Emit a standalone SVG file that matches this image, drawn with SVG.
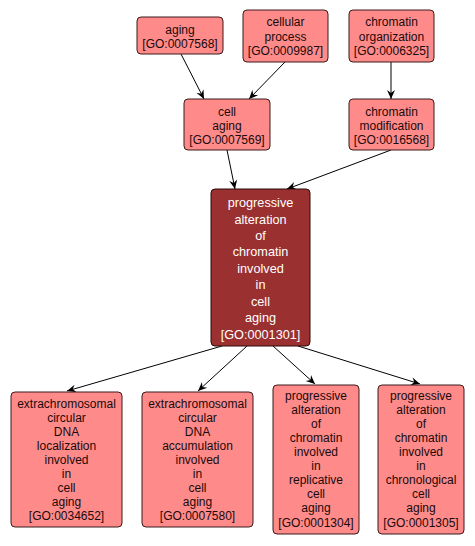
<svg xmlns="http://www.w3.org/2000/svg" width="475" height="546" viewBox="0 0 475 546">
<style>
.n rect{fill:#ff8a8a;stroke:#3a1a1a;stroke-width:1}
.n text{font-family:"Liberation Sans",Arial,sans-serif;font-size:12px;fill:#1a0a0a;text-anchor:middle}
.m rect{fill:#9a3030;stroke:#2a0a0a;stroke-width:1}
.m text{font-family:"Liberation Sans",Arial,sans-serif;font-size:12.7px;fill:#ffffff;text-anchor:middle}
.e line{stroke:#000;stroke-width:1;marker-end:url(#ah)}
</style>
<defs>
<marker id="ah" markerUnits="userSpaceOnUse" viewBox="-10 -5 11 10" refX="0" refY="0" markerWidth="11" markerHeight="10" orient="auto">
<path d="M0,0 L-9,-4 L-6,0 L-9,4 Z" fill="#000"/>
</marker>
</defs>
<rect width="475" height="546" fill="#fff"/>
<g id="edges" class="e">
<line x1="181" y1="54" x2="204" y2="99"/>
<line x1="285" y1="62" x2="249" y2="99"/>
<line x1="391" y1="62" x2="391" y2="99"/>
<line x1="227" y1="150" x2="235" y2="189"/>
<line x1="391" y1="150" x2="287" y2="189"/>
<line x1="222" y1="346" x2="67" y2="391"/>
<line x1="247" y1="346" x2="198" y2="391"/>
<line x1="273" y1="346" x2="315" y2="384"/>
<line x1="298" y1="346" x2="420" y2="384"/>
</g>
<g id="GO0007568" class="n">
<rect x="137" y="17" width="86" height="37" rx="4"/>
<text x="180" y="34">aging</text>
<text x="180" y="48">[GO:0007568]</text>
</g>
<g id="GO0009987" class="n">
<rect x="243" y="10" width="85" height="52" rx="4"/>
<text x="285.5" y="26">cellular</text>
<text x="285.5" y="40.5">process</text>
<text x="285.5" y="55">[GO:0009987]</text>
</g>
<g id="GO0006325" class="n">
<rect x="349" y="10" width="85" height="52" rx="4"/>
<text x="391.5" y="26">chromatin</text>
<text x="391.5" y="40.5">organization</text>
<text x="391.5" y="55">[GO:0006325]</text>
</g>
<g id="GO0007569" class="n">
<rect x="184" y="99" width="86" height="51" rx="4"/>
<text x="227" y="116">cell</text>
<text x="227" y="130">aging</text>
<text x="227" y="144">[GO:0007569]</text>
</g>
<g id="GO0016568" class="n">
<rect x="349" y="99" width="85" height="51" rx="4"/>
<text x="391.5" y="116">chromatin</text>
<text x="391.5" y="130">modification</text>
<text x="391.5" y="144">[GO:0016568]</text>
</g>
<g id="GO0001301" class="m">
<rect x="211" y="189" width="99" height="157" rx="4"/>
<text x="260.5" y="207">progressive</text>
<text x="260.5" y="224">alteration</text>
<text x="260.5" y="240">of</text>
<text x="260.5" y="256">chromatin</text>
<text x="260.5" y="273">involved</text>
<text x="260.5" y="289">in</text>
<text x="260.5" y="306">cell</text>
<text x="260.5" y="322">aging</text>
<text x="260.5" y="338.5">[GO:0001301]</text>
</g>
<g id="GO0034652" class="n">
<rect x="11" y="392" width="111" height="135" rx="4"/>
<text x="66.5" y="407.5">extrachromosomal</text>
<text x="66.5" y="421.5">circular</text>
<text x="66.5" y="435.5">DNA</text>
<text x="66.5" y="449.5">localization</text>
<text x="66.5" y="463.5">involved</text>
<text x="66.5" y="477.5">in</text>
<text x="66.5" y="491.5">cell</text>
<text x="66.5" y="505.5">aging</text>
<text x="66.5" y="520">[GO:0034652]</text>
</g>
<g id="GO0007580" class="n">
<rect x="142" y="392" width="111" height="135" rx="4"/>
<text x="197.5" y="407.5">extrachromosomal</text>
<text x="197.5" y="421.5">circular</text>
<text x="197.5" y="435.5">DNA</text>
<text x="197.5" y="449.5">accumulation</text>
<text x="197.5" y="463.5">involved</text>
<text x="197.5" y="477.5">in</text>
<text x="197.5" y="491.5">cell</text>
<text x="197.5" y="505.5">aging</text>
<text x="197.5" y="520">[GO:0007580]</text>
</g>
<g id="GO0001304" class="n">
<rect x="273" y="385" width="86" height="149" rx="4"/>
<text x="316" y="400">progressive</text>
<text x="316" y="414">alteration</text>
<text x="316" y="428">of</text>
<text x="316" y="442">chromatin</text>
<text x="316" y="456">involved</text>
<text x="316" y="470">in</text>
<text x="316" y="484">replicative</text>
<text x="316" y="498">cell</text>
<text x="316" y="512">aging</text>
<text x="316" y="526.5">[GO:0001304]</text>
</g>
<g id="GO0001305" class="n">
<rect x="378" y="385" width="86" height="149" rx="4"/>
<text x="421" y="400">progressive</text>
<text x="421" y="414">alteration</text>
<text x="421" y="428">of</text>
<text x="421" y="442">chromatin</text>
<text x="421" y="456">involved</text>
<text x="421" y="470">in</text>
<text x="421" y="484">chronological</text>
<text x="421" y="498">cell</text>
<text x="421" y="512">aging</text>
<text x="421" y="526.5">[GO:0001305]</text>
</g>
</svg>
